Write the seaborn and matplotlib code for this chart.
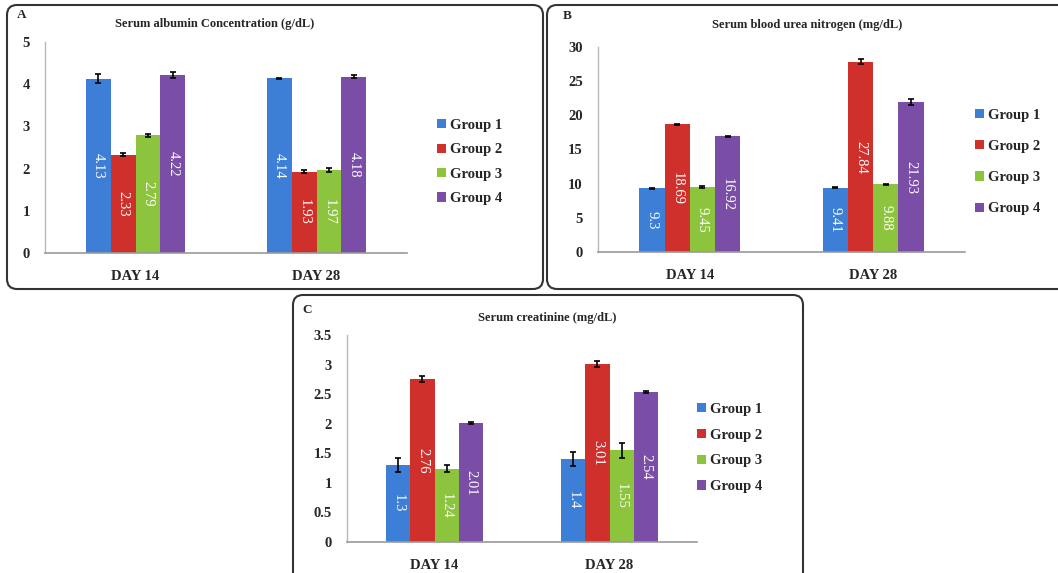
import numpy as np
import pandas as pd
import matplotlib
matplotlib.use("Agg")
import matplotlib.pyplot as plt
from matplotlib.patches import FancyBboxPatch
from matplotlib.transforms import IdentityTransform
import seaborn as sns

days = ["DAY 14", "DAY 28"]
groups = ["Group 1", "Group 2", "Group 3", "Group 4"]

albumin_d14 = [4.13, 2.33, 2.79, 4.22]
albumin_d28 = [4.14, 1.93, 1.97, 4.18]
albumin_err_d14 = [0.10, 0.03, 0.03, 0.07]
albumin_err_d28 = [0.01, 0.04, 0.05, 0.03]

bun_d14 = [9.3, 18.69, 9.45, 16.92]
bun_d28 = [9.41, 27.84, 9.88, 21.93]
bun_err_d14 = [0.10, 0.10, 0.15, 0.10]
bun_err_d28 = [0.10, 0.40, 0.10, 0.40]

creat_d14 = [1.3, 2.76, 1.24, 2.01]
creat_d28 = [1.4, 3.01, 1.55, 2.54]
creat_err_d14 = [0.12, 0.05, 0.06, 0.02]
creat_err_d28 = [0.12, 0.05, 0.13, 0.02]

titles = ["Serum albumin Concentration (g/dL)", "Serum blood urea nitrogen (mg/dL)", "Serum creatinine (mg/dL)"]
letters = ["A", "B", "C"]
yticks_A = [0, 1, 2, 3, 4, 5]
yticks_B = [0, 5, 10, 15, 20, 25, 30]
yticks_C = [0, 0.5, 1, 1.5, 2, 2.5, 3, 3.5]

palette = ["#3d7ed6", "#cf302b", "#8dc43e", "#7a4ea6"]

sns.set_style("white")
plt.rcParams["font.family"] = ["Liberation Serif", "DejaVu Serif"]
plt.rcParams["font.weight"] = "bold"

W, H = 1058, 573
fig = plt.figure(figsize=(W / 100, H / 100), dpi=100)


def frac_axes(left_px, right_px, top_px, bottom_px):
    return [left_px / W, 1 - bottom_px / H, (right_px - left_px) / W, (bottom_px - top_px) / H]


def make_df(d14, d28):
    rows = []
    for g, v in zip(groups, d14):
        rows.append({"day": days[0], "group": g, "value": v})
    for g, v in zip(groups, d28):
        rows.append({"day": days[1], "group": g, "value": v})
    return pd.DataFrame(rows)


panels = [
    dict(d14=albumin_d14, d28=albumin_d28, e14=albumin_err_d14, e28=albumin_err_d28,
         rect=frac_axes(45, 407, 42, 253), yticks=yticks_A,
         title_xy=(215, 24), letter_xy=(22, 15),
         leg_xy=(430, 162), leg_sp=0.78),
    dict(d14=bun_d14, d28=bun_d28, e14=bun_err_d14, e28=bun_err_d28,
         rect=frac_axes(598, 965, 47, 252), yticks=yticks_B,
         title_xy=(807, 25), letter_xy=(567, 16),
         leg_xy=(968, 162), leg_sp=1.25),
    dict(d14=creat_d14, d28=creat_d28, e14=creat_err_d14, e28=creat_err_d28,
         rect=frac_axes(347, 697, 335, 542), yticks=yticks_C,
         title_xy=(547, 318), letter_xy=(307, 310),
         leg_xy=(690, 448), leg_sp=0.88),
]

for i, p in enumerate(panels):
    ax = fig.add_axes(p["rect"])
    df = make_df(p["d14"], p["d28"])
    sns.barplot(data=df, x="day", y="value", hue="group", hue_order=groups,
                order=days, palette=palette, width=0.55, errorbar=None,
                saturation=1, ax=ax, linewidth=0)
    errs = [p["e14"], p["e28"]]
    bar_containers = list(ax.containers)
    for gi, cont in enumerate(bar_containers):
        xs = [b.get_x() + b.get_width() / 2 for b in cont]
        ys = [b.get_height() for b in cont]
        es = [errs[0][gi], errs[1][gi]]
        ax.errorbar(xs, ys, yerr=es, fmt="none", ecolor="black",
                    elinewidth=1.2, capsize=2.5, capthick=1.2, zorder=5)
        ax.bar_label(cont, labels=[f"{v:g}" for v in ys], label_type="center",
                     rotation=-90, color="white", fontsize=10.5, fontweight="normal")
    ax.set_xlim(-0.5, 1.5)
    ax.set_ylim(p["yticks"][0], p["yticks"][-1])
    ax.set_yticks(p["yticks"])
    ax.set_yticklabels([f"{t:g}" for t in p["yticks"]], fontsize=10.5, fontweight="bold")
    ax.set_xticks([0, 1])
    ax.set_xticklabels(days, fontsize=10.5, fontweight="bold")
    ax.tick_params(axis="x", length=0, pad=12)
    ax.tick_params(axis="y", length=0, pad=11)
    ax.set_xlabel("")
    ax.set_ylabel("")
    for s in ["top", "right"]:
        ax.spines[s].set_visible(False)
    ax.spines["left"].set_color("#b8b8b8")
    ax.spines["bottom"].set_color("#9a9a9a")
    ax.spines["left"].set_linewidth(1)
    ax.spines["bottom"].set_linewidth(1.2)
    handles, labels = ax.get_legend_handles_labels()
    ax.legend(handles[:4], labels[:4], loc="center left",
              bbox_to_anchor=(p["leg_xy"][0] / W, 1 - p["leg_xy"][1] / H),
              bbox_transform=fig.transFigure, frameon=False,
              prop={"family": "Liberation Serif", "weight": "bold", "size": 10.5},
              handlelength=0.6, handleheight=0.6, handletextpad=0.25,
              labelspacing=p["leg_sp"], borderpad=0)
    tx, ty = p["title_xy"]
    fig.text(tx / W, 1 - ty / H, titles[i], ha="center", va="center",
             fontsize=9, fontweight="bold")
    lx, ly = p["letter_xy"]
    fig.text(lx / W, 1 - ly / H, letters[i], ha="center", va="center",
             fontsize=9.5, fontweight="bold")

# panel frames (pixel coordinates)
boxes = [(7, 5, 543, 289), (547, 5, 1070, 289), (293, 295, 803, 590)]
for (x0, y0, x1, y1) in boxes:
    patch = FancyBboxPatch((x0, H - y1), x1 - x0, y1 - y0,
                           boxstyle="round,pad=0,rounding_size=10",
                           transform=IdentityTransform(), fill=False,
                           edgecolor="#333333", linewidth=1.5, clip_on=False)
    fig.patches.append(patch)

fig.savefig("out.png", dpi=100, facecolor="white")
